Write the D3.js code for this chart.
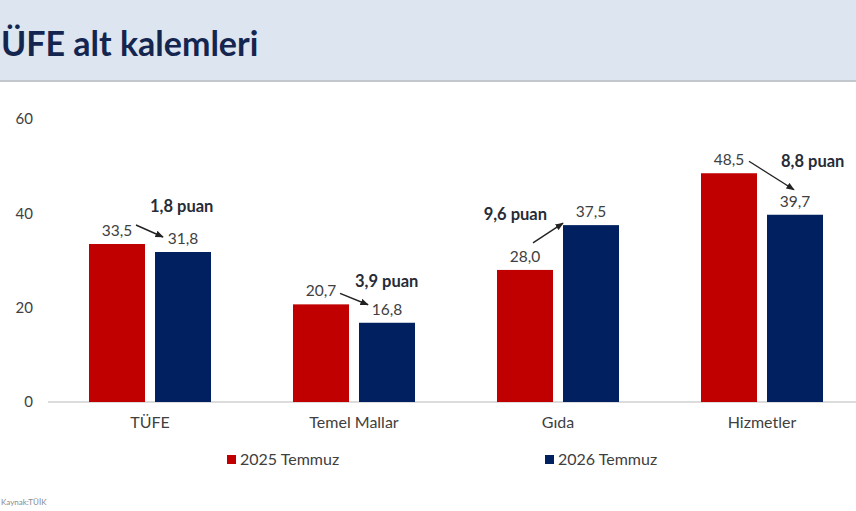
<!DOCTYPE html>
<html>
<head>
<meta charset="utf-8">
<script src="https://cdn.jsdelivr.net/npm/d3@7"></script>
<style>
    html, body { margin: 0; padding: 0; background: #fff; overflow: hidden; }
    svg { display: block; font-family: Lato, 'Open Sans', sans-serif; }
</style>
</head>
<body>
<svg id="chart"></svg>
<script>
const categories = ['TÜFE', 'Temel Mallar', 'Gıda', 'Hizmetler'];
const seriesNames = ['2025 Temmuz', '2026 Temmuz'];
const values2025 = [33.5, 20.7, 28.0, 48.5];
const values2026 = [31.8, 16.8, 37.5, 39.7];
const changeLabels = ['1,8 puan', '3,9 puan', '9,6 puan', '8,8 puan'];
const yTicks = [0, 20, 40, 60];

const width = 856;
const height = 511;
const colors = ['#c00000', '#002060'];

const svg = d3.select('#chart')
    .attr('width', width)
    .attr('height', height);

// header band
svg.append('rect')
    .attr('x', 0).attr('y', 0)
    .attr('width', width).attr('height', 80)
    .attr('fill', '#dce5f0');

svg.append('rect')
    .attr('x', 0).attr('y', 80)
    .attr('width', width).attr('height', 2)
    .attr('fill', '#c3c8cf');

svg.append('text')
    .attr('x', 1)
    .attr('y', 56)
    .style('font-size', '34px')
    .style('font-weight', '700')
    .style('fill', '#14254f')
    .text('ÜFE alt kalemleri');

const x = d3.scaleBand()
    .domain(categories)
    .range([48, 864]);

const x1 = d3.scaleBand()
    .domain(seriesNames)
    .range([0, x.bandwidth()])
    .paddingInner(0.1515)
    .paddingOuter(0.621);

const y = d3.scaleLinear()
    .domain([0, 60])
    .range([402, 119]);

// y axis labels only
const yAxis = svg.append('g')
    .attr('transform', 'translate(33,0)')
    .call(d3.axisLeft(y).tickValues(yTicks).tickSize(0).tickPadding(0));
yAxis.select('.domain').remove();
yAxis.selectAll('text')
    .style('font-family', 'Lato, sans-serif')
    .style('font-size', '15px')
    .style('fill', '#404040');

// baseline
svg.append('line')
    .attr('x1', 48).attr('x2', width)
    .attr('y1', y(0)).attr('y2', y(0))
    .attr('stroke', '#d0d0d0')
    .attr('stroke-width', 1.5);

// category labels
const xAxis = svg.append('g')
    .attr('transform', `translate(0,${y(0)})`)
    .call(d3.axisBottom(x).tickSize(0).tickPadding(15));
xAxis.select('.domain').remove();
xAxis.selectAll('text')
    .style('font-family', 'Lato, sans-serif')
    .style('font-size', '16px')
    .style('fill', '#404040');

const rows = categories.map((c, i) => ({
    cat: c,
    vals: [values2025[i], values2026[i]],
    change: changeLabels[i]
}));

const groups = svg.selectAll('.group')
    .data(rows)
    .enter()
    .append('g')
    .attr('class', 'group')
    .attr('transform', d => `translate(${x(d.cat)},0)`);

groups.selectAll('rect')
    .data(d => d.vals.map((v, j) => ({ key: seriesNames[j], value: v, j })))
    .enter()
    .append('rect')
    .attr('x', d => x1(d.key))
    .attr('y', d => y(d.value))
    .attr('width', x1.bandwidth())
    .attr('height', d => y(0) - y(d.value))
    .attr('fill', d => colors[d.j]);

groups.selectAll('.val')
    .data(d => d.vals.map((v, j) => ({ key: seriesNames[j], value: v })))
    .enter()
    .append('text')
    .attr('class', 'val')
    .attr('x', d => x1(d.key) + x1.bandwidth() / 2)
    .attr('y', d => y(d.value) - 8)
    .attr('text-anchor', 'middle')
    .style('font-size', '15.5px')
    .style('fill', '#404040')
    .text(d => d3.format('.1f')(d.value).replace('.', ','));

// annotation arrows: offsets from the label positions
const arrowLayout = [
    { sx: 19, sy: -19, ex: -20, ey: -15, tx: 102, ty: -32, anchor: 'start' },
    { sx: 19, sy: -11, ex: -19, ey: -18, tx: 103, ty: -17, anchor: 'start' },
    { sx: 8, sy: -27, ex: -28, ey: -2, tx: 91, ty: -5, anchor: 'end' },
    { sx: 20, sy: -12, ex: -1, ey: -25, tx: 121, ty: -6, anchor: 'start' }
];

svg.append('defs').append('marker')
    .attr('id', 'head')
    .attr('viewBox', '0 0 10 10')
    .attr('refX', 9).attr('refY', 5)
    .attr('markerWidth', 6).attr('markerHeight', 6)
    .attr('orient', 'auto')
    .append('path')
    .attr('d', 'M0,1 L10,5 L0,9 Z')
    .attr('fill', '#222');

groups.each(function (d, i) {
    const g = d3.select(this);
    const L = arrowLayout[i];
    const cx0 = x1(seriesNames[0]) + x1.bandwidth() / 2;
    const cx1 = x1(seriesNames[1]) + x1.bandwidth() / 2;
    g.append('line')
        .attr('x1', cx0 + L.sx).attr('y1', y(d.vals[0]) + L.sy)
        .attr('x2', cx1 + L.ex).attr('y2', y(d.vals[1]) + L.ey)
        .attr('stroke', '#222')
        .attr('stroke-width', 1.4)
        .attr('marker-end', 'url(#head)');
    g.append('text')
        .attr('x', L.tx)
        .attr('y', y(d3.max(d.vals)) + L.ty)
        .attr('text-anchor', L.anchor)
        .style('font-size', '16.5px')
        .style('font-weight', '700')
        .style('fill', '#262b36')
        .text(d.change);
});

// legend
const legendX = [227, 545];
const legend = svg.selectAll('.legend')
    .data(seriesNames)
    .enter()
    .append('g')
    .attr('class', 'legend')
    .attr('transform', (d, i) => `translate(${legendX[i]},455)`);

legend.append('rect')
    .attr('width', 9).attr('height', 9)
    .attr('fill', (d, i) => colors[i]);

legend.append('text')
    .attr('x', 13)
    .attr('y', 9.5)
    .style('font-size', '16px')
    .style('fill', '#404040')
    .text(d => d);

// source
svg.append('text')
    .attr('x', 1)
    .attr('y', 505)
    .style('font-size', '8px')
    .style('fill', '#8a8a8a')
    .text('Kaynak:TÜİK');
</script>
</body>
</html>
